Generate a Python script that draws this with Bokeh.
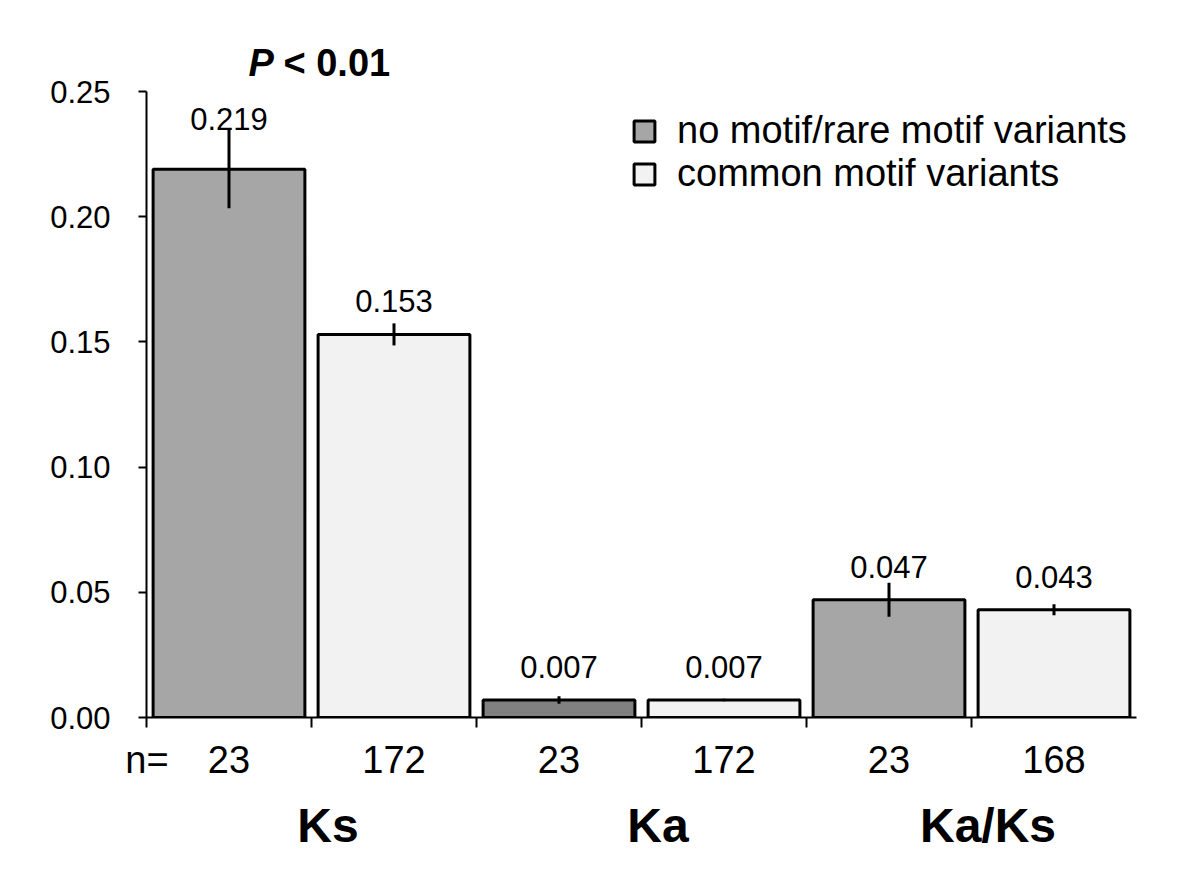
from bokeh.plotting import figure
from bokeh.models import (Range1d, FixedTicker, NumeralTickFormatter, LinearAxis,
                          ColumnDataSource, Legend, LegendItem, Label)
from bokeh.core.properties import value
from bokeh.embed import file_html
from bokeh.resources import INLINE

# ---------------- data ----------------
groups = ["Ks", "Ka", "Ka/Ks"]
series_names = ["no motif/rare motif variants", "common motif variants"]
rare_values = [0.219, 0.007, 0.047]
common_values = [0.153, 0.007, 0.043]
rare_errors = [0.0156, 0.0015, 0.0068]
common_errors = [0.0044, 0.0005, 0.0022]
rare_n = [23, 23, 23]
common_n = [172, 172, 168]
n_prefix = "n="
y_ticks = [0.0, 0.05, 0.10, 0.15, 0.20, 0.25]
p_value_label = "< 0.01"

FONT = "Liberation Sans"
RARE_COLORS = ["#a6a6a6", "#808080", "#a6a6a6"]
COMMON_COLOR = "#f2f2f2"
PX = 0.05 / 125.2          # data units per screen pixel (y)

p = figure(width=1192, height=878, output_backend="svg", toolbar_location=None,
           x_range=Range1d(0, 6), y_range=Range1d(0, 0.27037),
           min_border_left=146, min_border_right=56, min_border_top=40,
           min_border_bottom=161)
p.xgrid.visible = False
p.ygrid.visible = False
p.outline_line_color = None
p.background_fill_color = "white"


def make_source(values, errors, colors, offset):
    xs = [2 * g + offset for g in range(len(values))]
    return ColumnDataSource(dict(
        x=xs,
        top=values,
        lo=[v - e for v, e in zip(values, errors)],
        hi=[v + e for v, e in zip(values, errors)],
        label=[f"{v:.3f}" for v in values],
        # vertical middle of the label text
        label_y=[max(v + 22 * PX, v + e) + 11 * PX for v, e in zip(values, errors)],
        color=colors,
    ))


rare_src = make_source(rare_values, rare_errors, RARE_COLORS, 0.5)
common_src = make_source(common_values, common_errors,
                         [COMMON_COLOR] * len(common_values), 1.5)

renderers = []
for src in (rare_src, common_src):
    r = p.vbar(x="x", top="top", bottom=0, width=0.92, source=src,
               fill_color="color", line_color="black", line_width=3)
    renderers.append(r)
    p.segment(x0="x", y0="lo", x1="x", y1="hi", source=src,
              line_color="black", line_width=3)
    p.text(x="x", y="label_y", text="label", source=src,
           text_font=value(FONT), text_font_size="31px", text_color="black",
           text_align="center", text_baseline="middle")

# ---------------- y axis ----------------
ya = p.yaxis[0]
ya.ticker = FixedTicker(ticks=y_ticks)
ya.formatter = NumeralTickFormatter(format="0.00")
ya.bounds = (0, 0.25)
ya.axis_line_width = 2
ya.axis_line_color = "black"
ya.major_tick_line_width = 2
ya.major_tick_line_color = "black"
ya.major_tick_out = 8
ya.major_tick_in = 0
ya.minor_tick_line_color = None
ya.major_label_standoff = 28
ya.major_label_text_font = FONT
ya.major_label_text_font_size = "31px"
ya.major_label_text_color = "black"

# ---------------- x axis (n values, boundary ticks) ----------------
centers = [0.003]
n_labels = {0.003: n_prefix}
for g in range(len(groups)):
    for k, ns in enumerate((rare_n, common_n)):
        c = 2 * g + k + 0.5
        centers.append(c)
        n_labels[c] = str(ns[g])
boundaries = list(range(0, 2 * len(groups)))

xa = p.xaxis[0]
xa.ticker = FixedTicker(ticks=centers, minor_ticks=boundaries)
xa.major_label_overrides = n_labels
xa.axis_line_width = 2
xa.axis_line_color = "black"
xa.major_tick_line_color = None
xa.major_tick_out = 0
xa.major_tick_in = 0
xa.minor_tick_line_color = "black"
xa.minor_tick_line_width = 2
xa.minor_tick_out = 10
xa.minor_tick_in = 0
xa.major_label_standoff = 11
xa.major_label_text_font = FONT
xa.major_label_text_font_size = "38px"
xa.major_label_text_color = "black"

# ---------------- group labels axis ----------------
group_pos = [2 * g + 1 + 0.1 for g in range(len(groups))]
ga = LinearAxis(ticker=FixedTicker(ticks=group_pos, minor_ticks=[]),
                major_label_overrides={gp: name for gp, name in zip(group_pos, groups)})
ga.axis_line_color = None
ga.major_tick_line_color = None
ga.minor_tick_line_color = None
ga.major_label_standoff = 9
ga.major_label_text_font = FONT
ga.major_label_text_font_size = "48px"
ga.major_label_text_font_style = "bold"
ga.major_label_text_color = "black"
p.add_layout(ga, "below")

# ---------------- annotations ----------------
p_mid = 0.25 + 16 * PX + 13 * PX
p.add_layout(Label(x=0.618, y=p_mid, text="P", text_font=FONT,
                   text_font_size="38px", text_font_style="bold italic",
                   text_color="black", text_baseline="middle"))
p.add_layout(Label(x=0.83, y=p_mid, text=p_value_label, text_font=FONT,
                   text_font_size="38px", text_font_style="bold",
                   text_color="black", text_baseline="middle"))

legend = Legend(items=[LegendItem(label=series_names[0], renderers=[renderers[0]], index=0),
                       LegendItem(label=series_names[1], renderers=[renderers[1]], index=0)],
                location=(485, 522), glyph_width=26, glyph_height=26,
                label_standoff=20, label_text_font=FONT, label_text_font_size="38px",
                label_text_color="black", padding=0, margin=0, spacing=0,
                border_line_color=None, background_fill_alpha=0)
p.add_layout(legend)

open("out.html", "w").write(file_html(p, INLINE))
